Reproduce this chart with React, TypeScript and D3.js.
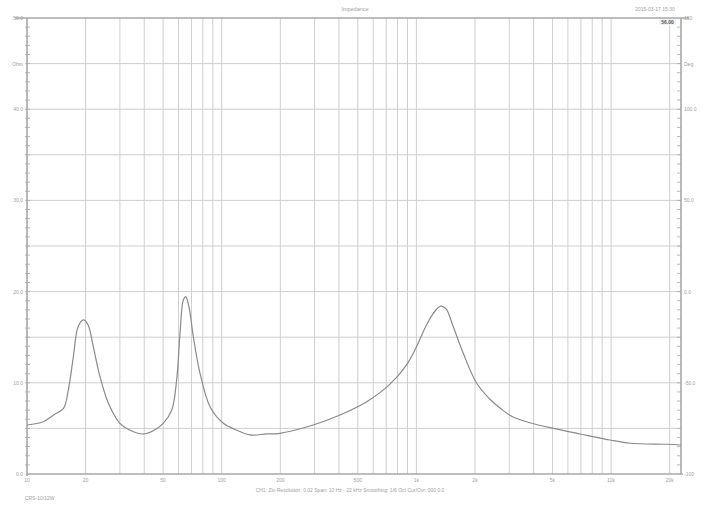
import React from "react";
import * as d3 from "d3";

const freqs = [10, 12.1, 13.7, 15.4, 16.3, 17.3, 18.3, 19.5, 20.6, 21.9, 23.7, 26.2, 30, 35.2, 39.6, 44.5, 50.1, 55.4, 58.7, 61.1, 63.5, 65.3, 67.9, 71.5, 77.4, 87.1, 102, 119, 140, 170, 199, 295, 405, 556, 732, 892, 1004, 1130, 1250, 1338, 1420, 1547, 1741, 2040, 2388, 2700, 3100, 3833, 5049, 6922, 9872, 12510, 19300, 22860];
const ohms = [5.37, 5.73, 6.47, 7.2, 9.21, 12.86, 16.15, 16.89, 16.34, 13.96, 10.67, 7.75, 5.56, 4.64, 4.39, 4.75, 5.56, 7.02, 10.31, 15.43, 19.08, 19.44, 18.34, 15.05, 11.04, 7.38, 5.56, 4.82, 4.28, 4.39, 4.46, 5.37, 6.47, 7.93, 9.85, 12.0, 14.0, 16.4, 17.9, 18.4, 18.1, 16.15, 13.23, 9.95, 8.2, 7.2, 6.3, 5.62, 5.0, 4.39, 3.73, 3.37, 3.26, 3.18];

const xGridFreqs = [20, 30, 40, 50, 60, 70, 80, 90, 100, 200, 300, 400, 500, 600, 700, 800, 900, 1000, 2000, 3000, 4000, 5000, 6000, 7000, 8000, 9000, 10000, 20000];
const xTickValues = [10, 20, 50, 100, 200, 500, 1000, 2000, 5000, 10000, 20000];
const xTickLabels = ["10", "20", "50", "100", "200", "500", "1k", "2k", "5k", "10k", "20k"];
const yLeftTicks = [0, 10, 20, 30, 40, 50];
const yLeftLabels = ["0.0", "10.0", "20.0", "30.0", "40.0", "50.0"];
const yRightLabels = ["-100", "-50.0", "0.0", "50.0", "100.0", "150"];

const title = "Impedance";
const dateText = "2015-03-17 15:30";
const caption = "CH1: Zin  Resolution: 0.02 Span: 10 Hz - 22 kHz  Smoothing: 1/6 Oct  Cur/Ovr: 000 0.0";
const footer = "CRS-10/12W";

export default function App() {
  const L = 27, R = 681, T = 18, B = 474;
  const x = d3.scaleLog().domain([10, 22860]).range([L, R]);
  const y = d3.scaleLinear().domain([0, 50]).range([B, T]);
  const pts: [number, number][] = freqs.map((f, i) => [x(f), y(ohms[i])]);
  const line = d3.line().curve(d3.curveCatmullRom.alpha(0.5))(pts) || "";
  const hGrid = d3.range(5, 50, 5);
  const minor = d3.range(1, 50, 1);
  const grid = "#cfcfcf";
  const axis = "#a8a8a8";
  const txt = "#a0a0a0";
  const font = "Liberation Sans, Arial, sans-serif";
  return (
    <svg width={707} height={510} style={{ position: "absolute", left: 0, top: 0, background: "#fff" }} fontFamily={font}>
      <rect x={0} y={0} width={707} height={510} fill="#fff" />
      {xGridFreqs.map((f) => (
        <line key={"v" + f} x1={x(f)} x2={x(f)} y1={T} y2={B} stroke={grid} strokeWidth={1} />
      ))}
      {hGrid.map((v) => (
        <line key={"h" + v} x1={L} x2={R} y1={y(v)} y2={y(v)} stroke={grid} strokeWidth={1} />
      ))}
      {minor.map((v) => (
        <g key={"m" + v}>
          <line x1={L - 2} x2={L + 3} y1={y(v)} y2={y(v)} stroke={axis} strokeWidth={0.8} />
          <line x1={R - 4} x2={R} y1={y(v)} y2={y(v)} stroke={axis} strokeWidth={0.8} />
        </g>
      ))}
      <line x1={15} x2={R + 8} y1={T} y2={T} stroke={axis} strokeWidth={1.6} />
      <line x1={L} x2={R + 2} y1={B} y2={B} stroke={axis} strokeWidth={1.6} />
      <line x1={L} x2={L} y1={T} y2={B + 2} stroke={axis} strokeWidth={1.6} />
      <line x1={R} x2={R} y1={T} y2={B} stroke={axis} strokeWidth={1.6} />
      <path d={line} fill="none" stroke="#8a8a8a" strokeWidth={1.2} />
      {yLeftTicks.map((v, i) => (
        <text key={"yl" + v} x={23} y={y(v) + 2} fontSize={5} fill={txt} textAnchor="end">{yLeftLabels[i]}</text>
      ))}
      <text x={23} y={y(45) + 2} fontSize={5} fill={txt} textAnchor="end">Ohm</text>
      {yLeftTicks.map((v, i) => (
        <text key={"yr" + v} x={684} y={y(v) + 2} fontSize={5} fill={txt}>{yRightLabels[i]}</text>
      ))}
      <text x={684} y={y(45) + 2} fontSize={5} fill={txt}>Deg</text>
      {xTickValues.map((f, i) => (
        <text key={"xt" + f} x={x(f)} y={482} fontSize={5} fill={txt} textAnchor="middle">{xTickLabels[i]}</text>
      ))}
      <text x={355} y={11} fontSize={5.5} fill={txt} textAnchor="middle">{title}</text>
      <text x={655} y={11} fontSize={5} fill={txt} textAnchor="middle">{dateText}</text>
      <rect x={659} y={19} width={17} height={6} fill="#f2f2f2" />
      <text x={667.5} y={24} fontSize={5} fill="#555" fontWeight="bold" textAnchor="middle">56.00</text>
      <text x={350} y={492} fontSize={5} fill={txt} textAnchor="middle">{caption}</text>
      <text x={25} y={500} fontSize={5} fill={txt}>{footer}</text>
    </svg>
  );
}
